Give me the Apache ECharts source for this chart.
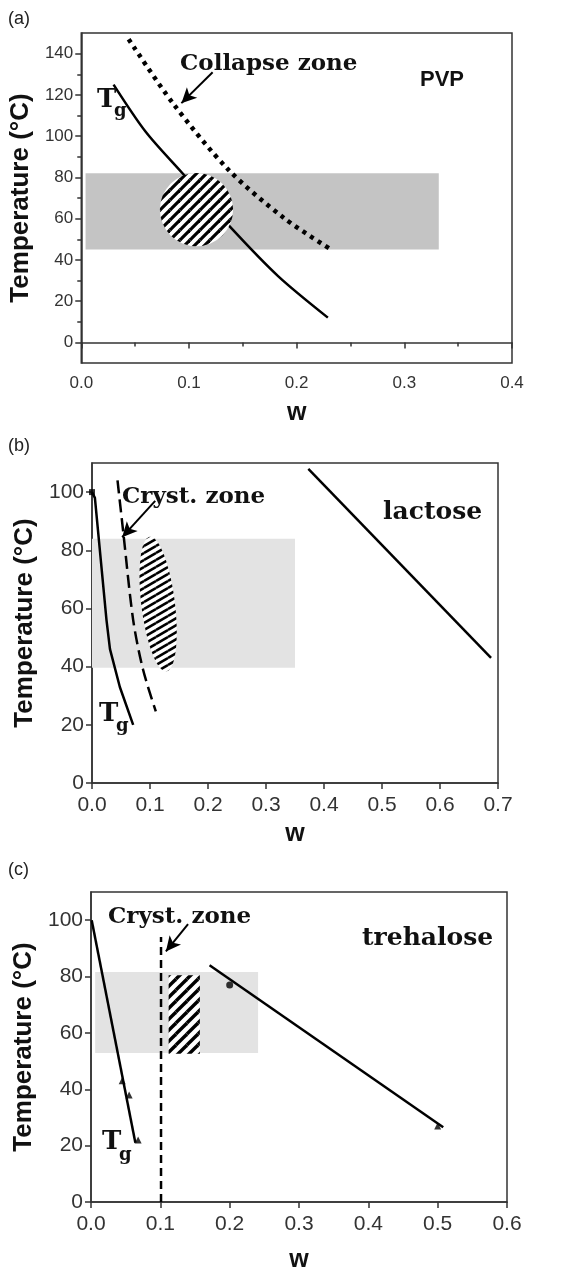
<!DOCTYPE html>
<html>
<head>
<meta charset="utf-8">
<script src="https://cdn.jsdelivr.net/npm/echarts@6/dist/echarts.min.js"></script>
<style>html,body{margin:0;padding:0;background:#fff}#main{width:572px;height:1274px}</style>
</head>
<body>
<div id="main"></div>
<script>
/* (a) PVP */
var pvpTg = [[0.030,125],[0.060,102],[0.094,82],[0.140,55],[0.183,32],[0.229,12]];
var pvpCollapse = [[0.044,147],[0.085,116],[0.137,83.5],[0.189,60],[0.232,45]];
var pvpBand = [[0.004,82,0.332,45]];
var pvpHatch = [[0.107,64.4,0.034]];           // centre w, centre T, radius (w)
var pvpArrow = [[0.122,131],[0.093,116]];
var pvpYTicks = [0,20,40,60,80,100,120,140];
var pvpYMinor = [10,30,50,70,90,110,130];

/* (b) lactose */
var lacTg = [[0,100],[0.005,98],[0.025,56],[0.031,46],[0.048,33],[0.071,20]];
var lacTgStart = [[0,100]];
var lacCryst = [[0.044,104],[0.054,86],[0.071,56],[0.088,39],[0.110,24.6]];
var lacLine = [[0.373,108],[0.688,43]];
var lacBand = [[0,84,0.35,39.6]];
var lacHatch = [[0.114,61.5,0.029,23.3,-7]];  // centre, semi-minor (w), semi-major (T), tilt
var lacArrow = [[0.109,97],[0.052,84.5]];
var lacYTicks = [0,20,40,60,80,100];

/* (c) trehalose */
var treTg = [[0.001,100],[0.064,21]];
var treTgPts = [[0.045,43],[0.055,38],[0.068,22]];
var treCryst = [[0.101,0],[0.101,94]];
var treLine = [[0.171,84],[0.508,26.5]];
var treDot = [[0.2,77]];
var treTri = [[0.5,27]];
var treBand = [[0.006,81.6,0.241,52.9]];
var treHatch = [[0.112,80.5,0.157,52.6]];
var treArrow = [[0.14,98.6],[0.108,88.9]];
var treYTicks = [0,20,40,60,80,100];

function stripeTile(w, h, lw) {
	var c = document.createElement('canvas');
	c.width = w; c.height = h;
	var g = c.getContext('2d');
	g.fillStyle = '#fff';
	g.fillRect(0, 0, w, h);
	g.strokeStyle = '#000';
	g.lineWidth = lw;
	for (var i = -1; i <= 1; i++) {
		for (var j = -1; j <= 1; j++) {
			g.beginPath();
			g.moveTo(i * w, h + j * h);
			g.lineTo(w + i * w, j * h);
			g.stroke();
		}
	}
	return {image: c, repeat: 'repeat'};
}
var hatchA = stripeTile(10, 10, 3.2);
var hatchB = stripeTile(12, 7, 2.6);
var hatchC = stripeTile(11, 11, 3.4);

function rectItem(fill) {
	return function (params, api) {
		var p1 = api.coord([api.value(0), api.value(1)]);
		var p2 = api.coord([api.value(2), api.value(3)]);
		return {
			type: 'rect',
			shape: {x: Math.min(p1[0], p2[0]), y: Math.min(p1[1], p2[1]),
				width: Math.abs(p2[0] - p1[0]), height: Math.abs(p2[1] - p1[1])},
			style: {fill: fill}
		};
	};
}

function circleItem(params, api) {
	var c = api.coord([api.value(0), api.value(1)]);
	var r = api.size([api.value(2), 0])[0];
	return {type: 'circle', shape: {cx: c[0], cy: c[1], r: r}, style: {fill: hatchA}};
}

function ellipseItem(params, api) {
	var c = api.coord([api.value(0), api.value(1)]);
	var rx = api.size([api.value(2), 0])[0];
	var ry = api.size([0, api.value(3)])[1];
	var t = api.value(4) * Math.PI / 180;
	var pts = [];
	for (var k = 0; k < 72; k++) {
		var a = k / 72 * Math.PI * 2;
		var px = rx * Math.cos(a), py = ry * Math.sin(a);
		pts.push([c[0] + px * Math.cos(t) - py * Math.sin(t), c[1] + px * Math.sin(t) + py * Math.cos(t)]);
	}
	return {type: 'polygon', shape: {points: pts}, style: {fill: hatchB}};
}

var axisCol = '#333';
var tickFont = 'Liberation Sans';

function xAxisOf(idx, max, fontSize, gap, minor) {
	return {
		gridIndex: idx, type: 'value', min: 0, max: max, interval: 0.1,
		name: 'w', nameLocation: 'middle', nameGap: gap,
		nameTextStyle: {fontSize: 25, fontWeight: 'bold', fontFamily: tickFont, color: '#111'},
		axisLine: {lineStyle: {color: axisCol, width: 1.5}},
		axisTick: {inside: false, length: 6, lineStyle: {color: axisCol, width: 1.5}},
		minorTick: {show: minor, splitNumber: 2, length: 4, lineStyle: {color: axisCol, width: 1.5}},
		axisLabel: {fontSize: fontSize, color: axisCol, fontFamily: tickFont, margin: 12,
			formatter: function (v) { return v.toFixed(1); }},
		splitLine: {show: false}
	};
}

function yAxisOf(idx, min, max, ticks, fontSize, gap) {
	return {
		gridIndex: idx, type: 'value', position: 'left', min: min, max: max,
		name: 'Temperature (°C)', nameLocation: 'middle', nameGap: gap,
		nameTextStyle: {fontSize: 26, fontWeight: 'bold', fontFamily: tickFont, color: '#111'},
		axisLine: {lineStyle: {color: axisCol, width: 1.5}},
		axisTick: {inside: false, length: 6, customValues: ticks, lineStyle: {color: axisCol, width: 1.5}},
		axisLabel: {fontSize: fontSize, color: axisCol, fontFamily: tickFont, margin: 8, customValues: ticks},
		splitLine: {show: false}
	};
}

function arrowMark(from, to) {
	return {
		silent: true, symbol: ['none', 'arrow'], symbolSize: [11, 15],
		label: {show: false},
		lineStyle: {type: 'solid', color: '#000', width: 2},
		data: [[{coord: from}, {coord: to}]]
	};
}

var blackLine = {color: '#000', width: 2.5};

var option = {
	animation: false,
	backgroundColor: '#fff',
	grid: [
		{left: 78, top: 33, width: 434, height: 330, show: true, borderColor: axisCol, borderWidth: 1.5},
		{left: 92, top: 463, width: 406, height: 320, show: true, borderColor: axisCol, borderWidth: 1.5},
		{left: 91, top: 892, width: 416, height: 317, show: true, borderColor: axisCol, borderWidth: 1.5}
	],
	xAxis: [
		xAxisOf(0, 0.4, 17, 38, true),
		xAxisOf(1, 0.7, 21, 39, false),
		xAxisOf(2, 0.6, 21, 46, false)
	],
	yAxis: [
		yAxisOf(0, -10, 150, pvpYTicks, 17, 46),
		{
			gridIndex: 0, type: 'value', position: 'left', min: -10, max: 150,
			axisLine: {show: false}, axisLabel: {show: false}, splitLine: {show: false},
			axisTick: {inside: false, length: 4, customValues: pvpYMinor, lineStyle: {color: axisCol, width: 1.5}}
		},
		yAxisOf(1, 0, 110, lacYTicks, 21, 52),
		yAxisOf(2, 0, 110, treYTicks, 21, 54)
	],
	series: [
		/* (a) */
		{type: 'custom', xAxisIndex: 0, yAxisIndex: 0, z: 1, silent: true, data: pvpBand, renderItem: rectItem('#c4c4c4')},
		{type: 'line', xAxisIndex: 0, yAxisIndex: 0, z: 3, smooth: 0.3, showSymbol: false, data: pvpTg, lineStyle: blackLine},
		{type: 'custom', xAxisIndex: 0, yAxisIndex: 0, z: 4, silent: true, data: pvpHatch, renderItem: circleItem},
		{type: 'line', xAxisIndex: 0, yAxisIndex: 0, z: 5, smooth: 0.3, showSymbol: false, data: pvpCollapse,
			lineStyle: {color: '#000', width: 4.5, type: [4, 5]}, markLine: arrowMark(pvpArrow[0], pvpArrow[1])},
		/* (b) */
		{type: 'custom', xAxisIndex: 1, yAxisIndex: 2, z: 1, silent: true, data: lacBand, renderItem: rectItem('#e3e3e3')},
		{type: 'line', xAxisIndex: 1, yAxisIndex: 2, z: 3, showSymbol: false, data: lacTg, lineStyle: blackLine},
		{type: 'scatter', xAxisIndex: 1, yAxisIndex: 2, z: 3, symbol: 'rect', symbolSize: 6, data: lacTgStart, itemStyle: {color: '#000'}},
		{type: 'line', xAxisIndex: 1, yAxisIndex: 2, z: 3, smooth: 0.3, showSymbol: false, data: lacCryst,
			lineStyle: {color: '#000', width: 2.5, type: [13, 6]}, markLine: arrowMark(lacArrow[0], lacArrow[1])},
		{type: 'custom', xAxisIndex: 1, yAxisIndex: 2, z: 4, silent: true, data: lacHatch, renderItem: ellipseItem},
		{type: 'line', xAxisIndex: 1, yAxisIndex: 2, z: 3, showSymbol: false, data: lacLine, lineStyle: blackLine},
		/* (c) */
		{type: 'custom', xAxisIndex: 2, yAxisIndex: 3, z: 1, silent: true, data: treBand, renderItem: rectItem('#e3e3e3')},
		{type: 'line', xAxisIndex: 2, yAxisIndex: 3, z: 3, showSymbol: false, data: treTg, lineStyle: blackLine},
		{type: 'scatter', xAxisIndex: 2, yAxisIndex: 3, z: 3, symbol: 'triangle', symbolSize: 7, data: treTgPts, itemStyle: {color: '#000'}},
		{type: 'line', xAxisIndex: 2, yAxisIndex: 3, z: 3, showSymbol: false, data: treCryst,
			lineStyle: {color: '#000', width: 2.5, type: [8, 5]}, markLine: arrowMark(treArrow[0], treArrow[1])},
		{type: 'custom', xAxisIndex: 2, yAxisIndex: 3, z: 4, silent: true, data: treHatch, renderItem: rectItem(hatchC)},
		{type: 'line', xAxisIndex: 2, yAxisIndex: 3, z: 3, showSymbol: false, data: treLine, lineStyle: blackLine},
		{type: 'scatter', xAxisIndex: 2, yAxisIndex: 3, z: 3, symbol: 'circle', symbolSize: 7, data: treDot, itemStyle: {color: '#000'}},
		{type: 'scatter', xAxisIndex: 2, yAxisIndex: 3, z: 3, symbol: 'triangle', symbolSize: 7, data: treTri, itemStyle: {color: '#000'}}
	],
	graphic: [
		{type: 'text', x: 8, y: 19, style: {text: '(a)', font: '18px "Liberation Sans"', fill: '#222', verticalAlign: 'middle'}},
		{type: 'text', x: 8, y: 446, style: {text: '(b)', font: '18px "Liberation Sans"', fill: '#222', verticalAlign: 'middle'}},
		{type: 'text', x: 8, y: 870, style: {text: '(c)', font: '18px "Liberation Sans"', fill: '#222', verticalAlign: 'middle'}},

		{type: 'text', x: 180, y: 64, z: 10, style: {text: 'Collapse zone', font: 'bold 23px "DejaVu Serif"', fill: '#111', verticalAlign: 'middle'}},
		{type: 'text', x: 420, y: 80, z: 10, style: {text: 'PVP', font: 'bold 22px "Liberation Sans"', fill: '#111', verticalAlign: 'middle'}},
		{type: 'text', x: 97, y: 100, z: 10, style: {text: 'T', font: 'bold 26px "DejaVu Serif"', fill: '#111', verticalAlign: 'middle'}},
		{type: 'text', x: 114, y: 111, z: 10, style: {text: 'g', font: 'bold 18px "DejaVu Serif"', fill: '#111', verticalAlign: 'middle'}},

		{type: 'text', x: 122, y: 497, z: 10, style: {text: 'Cryst. zone', font: 'bold 23px "DejaVu Serif"', fill: '#111', verticalAlign: 'middle'}},
		{type: 'text', x: 383, y: 512, z: 10, style: {text: 'lactose', font: 'bold 25px "DejaVu Serif"', fill: '#111', verticalAlign: 'middle'}},
		{type: 'text', x: 99, y: 714, z: 10, style: {text: 'T', font: 'bold 26px "DejaVu Serif"', fill: '#111', verticalAlign: 'middle'}},
		{type: 'text', x: 116, y: 726, z: 10, style: {text: 'g', font: 'bold 18px "DejaVu Serif"', fill: '#111', verticalAlign: 'middle'}},

		{type: 'text', x: 108, y: 917, z: 10, style: {text: 'Cryst. zone', font: 'bold 23px "DejaVu Serif"', fill: '#111', verticalAlign: 'middle'}},
		{type: 'text', x: 362, y: 938, z: 10, style: {text: 'trehalose', font: 'bold 25px "DejaVu Serif"', fill: '#111', verticalAlign: 'middle'}},
		{type: 'text', x: 102, y: 1142, z: 10, style: {text: 'T', font: 'bold 26px "DejaVu Serif"', fill: '#111', verticalAlign: 'middle'}},
		{type: 'text', x: 119, y: 1155, z: 10, style: {text: 'g', font: 'bold 18px "DejaVu Serif"', fill: '#111', verticalAlign: 'middle'}}
	]
};

var chart = echarts.init(document.getElementById('main'));
chart.setOption(option);
</script>
</body>
</html>
